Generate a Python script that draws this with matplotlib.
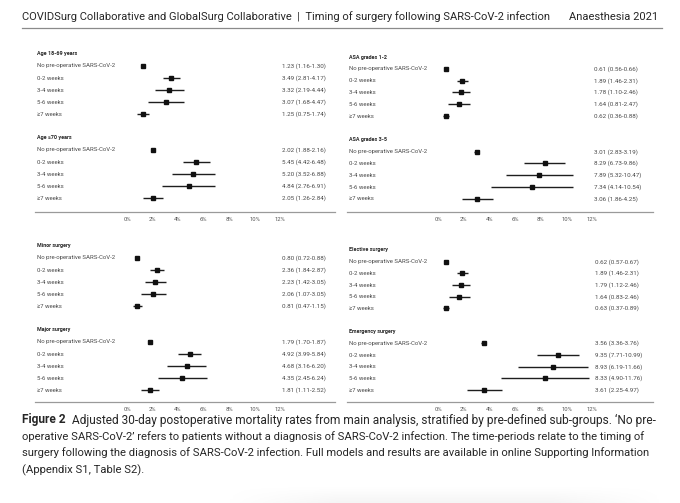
import matplotlib.pyplot as plt
import numpy as np

# data: estimate (lower-upper), in %
rows = ["No pre-operative SARS-CoV-2", "0-2 weeks", "3-4 weeks", "5-6 weeks", "\u22657 weeks"]
ticks = [0, 2, 4, 6, 8, 10, 12]

age_young = [1.23, 3.49, 3.32, 3.07, 1.25]
age_young_lo = [1.16, 2.81, 2.19, 1.68, 0.75]
age_young_hi = [1.30, 4.17, 4.44, 4.47, 1.74]
age_old = [2.02, 5.45, 5.20, 4.84, 2.05]
age_old_lo = [1.88, 4.42, 3.52, 2.76, 1.26]
age_old_hi = [2.16, 6.48, 6.88, 6.91, 2.84]

asa_low = [0.61, 1.89, 1.78, 1.64, 0.62]
asa_low_lo = [0.56, 1.46, 1.10, 0.81, 0.36]
asa_low_hi = [0.66, 2.31, 2.46, 2.47, 0.88]
asa_high = [3.01, 8.29, 7.89, 7.34, 3.06]
asa_high_lo = [2.83, 6.73, 5.32, 4.14, 1.86]
asa_high_hi = [3.19, 9.86, 10.47, 10.54, 4.25]

minor = [0.80, 2.36, 2.23, 2.06, 0.81]
minor_lo = [0.72, 1.84, 1.42, 1.07, 0.47]
minor_hi = [0.88, 2.87, 3.05, 3.05, 1.15]
major = [1.79, 4.92, 4.68, 4.35, 1.81]
major_lo = [1.70, 3.99, 3.16, 2.45, 1.11]
major_hi = [1.87, 5.84, 6.20, 6.24, 2.52]

elective = [0.62, 1.89, 1.79, 1.64, 0.63]
elective_lo = [0.57, 1.46, 1.12, 0.83, 0.37]
elective_hi = [0.67, 2.31, 2.46, 2.46, 0.89]
emergency = [3.56, 9.35, 8.93, 8.33, 3.61]
emergency_lo = [3.36, 7.71, 6.19, 4.90, 2.25]
emergency_hi = [3.76, 10.99, 11.66, 11.76, 4.97]

header_left = "COVIDSurg Collaborative and GlobalSurg Collaborative  |  Timing of surgery following SARS-CoV-2 infection"
header_right = "Anaesthesia 2021"
caption_lines = [
    "Adjusted 30-day postoperative mortality rates from main analysis, stratified by pre-defined sub-groups. \u2018No pre-",
    "operative SARS-CoV-2\u2019 refers to patients without a diagnosis of SARS-CoV-2 infection. The time-periods relate to the timing of",
    "surgery following the diagnosis of SARS-CoV-2 infection. Full models and results are available in online Supporting Information",
    "(Appendix S1, Table S2).",
]

panels = [
    # (x_left, x_right, x_zero, px_per_pct, y_header, row_step, y_axis, value_left, groups)
    (35, 335, 127, 12.75, 54, 12.0, 212, 282,
     [("Age 18-69 years", age_young, age_young_lo, age_young_hi),
      ("Age \u226570 years", age_old, age_old_lo, age_old_hi)]),
    (347, 653, 438, 12.85, 57, 11.83, 212, 594,
     [("ASA grades 1-2", asa_low, asa_low_lo, asa_low_hi),
      ("ASA grades 3-5", asa_high, asa_high_lo, asa_high_hi)]),
    (35, 335, 127, 12.75, 246, 12.0, 402, 282,
     [("Minor surgery", minor, minor_lo, minor_hi),
      ("Major surgery", major, major_lo, major_hi)]),
    (347, 653, 438, 12.85, 250, 11.67, 402, 595,
     [("Elective surgery", elective, elective_lo, elective_hi),
      ("Emergency surgery", emergency, emergency_lo, emergency_hi)]),
]

W, H = 680, 503
plt.rcParams["font.family"] = ["Roboto", "DejaVu Sans"]
TXT = "#262626"
GREY = "#4a4a4a"

fig = plt.figure(figsize=(W / 100, H / 100), dpi=100)
fig.patch.set_facecolor("white")
renderer = fig.canvas.get_renderer()


def width_px(t):
    return t.get_window_extent(renderer=renderer).width


def fit(t, target):
    t.set_fontsize(t.get_fontsize() * target / width_px(t))
    return t


def fit_size(s, target, **kw):
    t = fig.text(0, 0, s, fontsize=8, **kw)
    size = 8 * target / width_px(t)
    t.remove()
    return size


# font sizes for the small panel texts, matched to widths in the reference
fs_label = fit_size(rows[0], 78)
fs_value = fit_size("1.23 (1.16-1.30)", 44)
fs_group = fit_size("Age 18-69 years", 40, fontweight="bold")

# page header
hl = fit(fig.text(22 / W, 1 - 17 / H, header_left, fontsize=8, color=TXT, va="center", ha="left"), 528)
fig.text(658 / W, 1 - 17 / H, header_right, fontsize=hl.get_fontsize(), color=TXT, va="center", ha="right")
fig.add_artist(plt.Line2D([22 / W, 662 / W], [1 - 28 / H, 1 - 28 / H], color="#8a8a8a", lw=0.9))

for x0, x1, xz, ppp, yh, step, ya, xv, groups in panels:
    top = yh - 0.8 * step
    ax = fig.add_axes([x0 / W, 1 - ya / H, (x1 - x0) / W, (ya - top) / H])
    ax.set_xlim((x0 - xz) / ppp, (x1 - xz) / ppp)
    ax.set_ylim((ya - yh) / step, -0.8)
    for s in ["top", "right", "left"]:
        ax.spines[s].set_visible(False)
    ax.spines["bottom"].set_color("#9a9a9a")
    ax.spines["bottom"].set_linewidth(0.9)
    ax.set_yticks([])
    ax.set_xticks(ticks)
    ax.set_xticklabels([f"{t}%" for t in ticks], fontsize=4.2, color="#555555")
    ax.tick_params(axis="x", length=0, pad=3.5)
    lab_x = (x0 + 2 - xz) / ppp
    val_x = (xv - xz) / ppp
    for g, (title, est, lo, hi) in enumerate(groups):
        base = g * 7
        ax.text(lab_x, base, title, fontsize=fs_group, fontweight="bold", color=TXT, va="center", ha="left")
        for i, name in enumerate(rows):
            y = base + 1 + i
            ax.text(lab_x, y, name, fontsize=fs_label, color=GREY, va="center", ha="left")
            ax.text(val_x, y, f"{est[i]:.2f} ({lo[i]:.2f}-{hi[i]:.2f})", fontsize=fs_value, color=GREY,
                    va="center", ha="left")
            ax.plot([lo[i], hi[i]], [y, y], color="#1e1e1e", lw=1.0, solid_capstyle="butt")
            ax.plot(est[i], y, marker="s", ms=3.0, color="#111111", lw=0)

# caption
fs = fit(fig.text(22 / W, 1 - 437 / H, caption_lines[1], fontsize=8, color=TXT, va="center", ha="left"), 628).get_fontsize()
fig2 = fig.text(22 / W, 1 - 420 / H, "Figure 2", fontsize=fs * 1.05, fontweight="bold", color=TXT, va="center", ha="left")
x_after = 22 + width_px(fig2) + 6
fit(fig.text(x_after / W, 1 - 420 / H, caption_lines[0], fontsize=fs, color=TXT, va="center", ha="left"), 652 - x_after)
fit(fig.text(22 / W, 1 - 453 / H, caption_lines[2], fontsize=fs, color=TXT, va="center", ha="left"), 629)
fig.text(22 / W, 1 - 470 / H, caption_lines[3], fontsize=fs, color=TXT, va="center", ha="left")

# faint page-edge shadow at the bottom
sh = fig.add_axes([225 / W, 0, 440 / W, 16 / H])
sh.axis("off")
grad = np.linspace(0, 1, 50)[:, None] * np.minimum(1, np.linspace(0, 4, 200)[None, :]) * np.minimum(1, np.linspace(4, 0, 200)[None, :])
sh.imshow(grad, aspect="auto", cmap="Greys", vmin=0, vmax=12, origin="upper")

fig.savefig("out.png", dpi=100, facecolor="white")
